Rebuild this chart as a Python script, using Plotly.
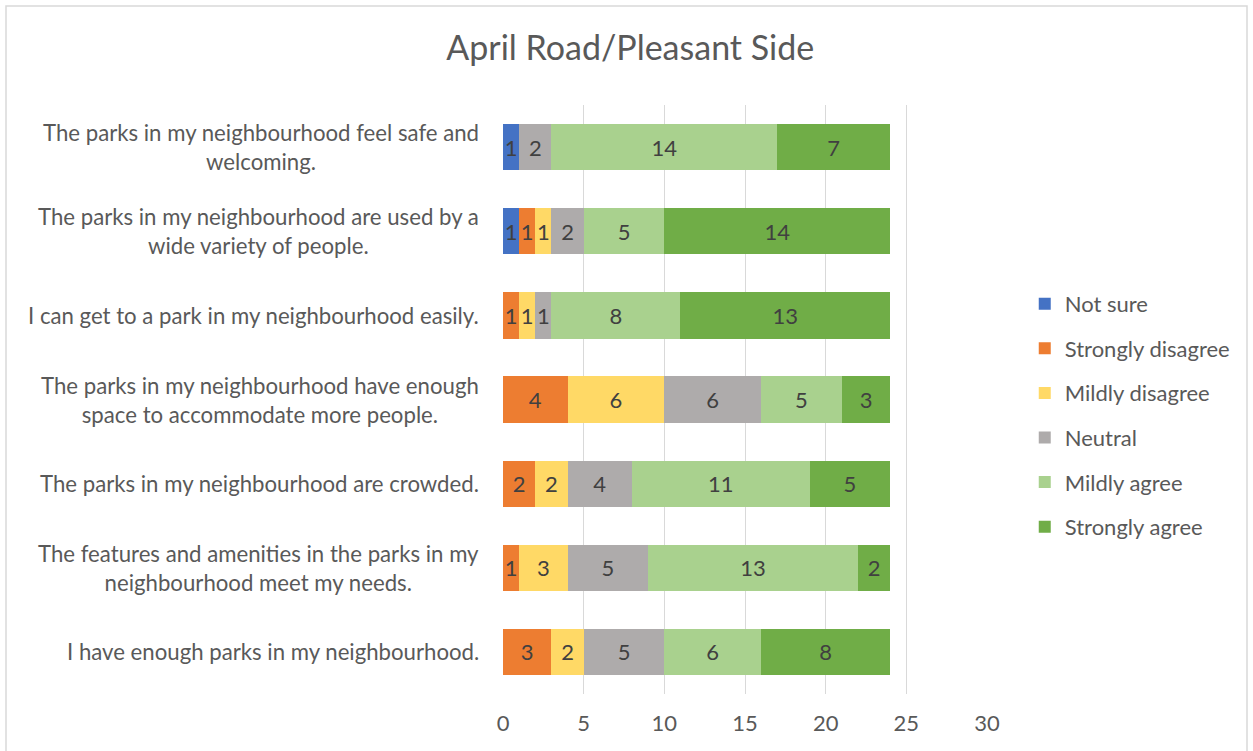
import plotly.graph_objects as go

categories = [
    "The parks in my neighbourhood feel safe and<br>welcoming.",
    "The parks in my neighbourhood are used by a<br>wide variety of people.",
    "I can get to a park in my neighbourhood easily.",
    "The parks in my neighbourhood have enough<br>space to accommodate more people.",
    "The parks in my neighbourhood are crowded.",
    "The features and amenities in the parks in my<br>neighbourhood meet my needs.",
    "I have enough parks in my neighbourhood.",
]
cat_ids = [f"c{i}" for i in range(len(categories))]

series_names = ["Not sure", "Strongly disagree", "Mildly disagree", "Neutral", "Mildly agree", "Strongly agree"]
not_sure = [1, 1, 0, 0, 0, 0, 0]
strongly_disagree = [0, 1, 1, 4, 2, 1, 3]
mildly_disagree = [0, 1, 1, 6, 2, 3, 2]
neutral = [2, 2, 1, 6, 4, 5, 5]
mildly_agree = [14, 5, 8, 5, 11, 13, 6]
strongly_agree = [7, 14, 13, 3, 5, 2, 8]
series_values = [not_sure, strongly_disagree, mildly_disagree, neutral, mildly_agree, strongly_agree]
colors = ["#4472C4", "#ED7D31", "#FFD966", "#AEABAB", "#A9D18E", "#70AD47"]

x_ticks = [0, 5, 10, 15, 20, 25, 30]

FONT = "Lato"
TXT = "#595959"

fig = go.Figure()
for name, vals, col in zip(series_names, series_values, colors):
    fig.add_trace(go.Bar(
        y=cat_ids, x=vals, name=name, orientation="h",
        marker=dict(color=col, line=dict(width=0)),
        text=[str(v) if v else "" for v in vals],
        textposition="inside", insidetextanchor="middle",
        constraintext="none",
        textfont=dict(family=FONT, size=22, color="#404040"),
        legendgroup=name, hoverinfo="x+name",
    ))

for cid, label in zip(cat_ids, categories):
    fig.add_annotation(
        xref="paper", yref="y", x=0, y=cid, text=label,
        xanchor="right", yanchor="middle", align="center", xshift=-22,
        showarrow=False, font=dict(family=FONT, size=22.2, color=TXT),
    )

fig.update_layout(
    width=1253, height=751,
    barmode="stack", bargap=0.45,
    paper_bgcolor="white", plot_bgcolor="white",
    margin=dict(l=503, r=266, t=105, b=57),
    title=dict(text="April Road/Pleasant Side", x=0.503, xref="container", xanchor="center",
               y=1 - 48 / 751, yref="container", yanchor="middle",
               font=dict(family=FONT, size=34, color=TXT)),
    xaxis=dict(range=[0, 30], tickvals=x_ticks, showgrid=True, gridcolor="#D9D9D9", gridwidth=1.3,
               zeroline=False, showline=False, ticks="",
               tickfont=dict(family=FONT, size=22, color=TXT), ticklabelstandoff=14),
    yaxis=dict(categoryorder="array", categoryarray=cat_ids, autorange="reversed",
               showticklabels=False, showgrid=False, zeroline=False, showline=False, ticks=""),
    legend=dict(x=1.078, xanchor="left", y=0.473, yanchor="middle", traceorder="grouped",
                tracegroupgap=13, font=dict(family=FONT, size=22, color=TXT),
                itemwidth=30, bgcolor="rgba(0,0,0,0)"),
    shapes=[dict(type="rect", xref="paper", yref="paper",
                 x0=(6 - 503) / 484, x1=(1247 - 503) / 484,
                 y0=(694 - 760) / 589, y1=(694 - 6) / 589,
                 line=dict(color="#D9D9D9", width=1.5), fillcolor="rgba(0,0,0,0)", layer="below")],
)

fig.write_html("out.html", config={"displayModeBar": False},
               post_script="document.body.style.margin='0';")
